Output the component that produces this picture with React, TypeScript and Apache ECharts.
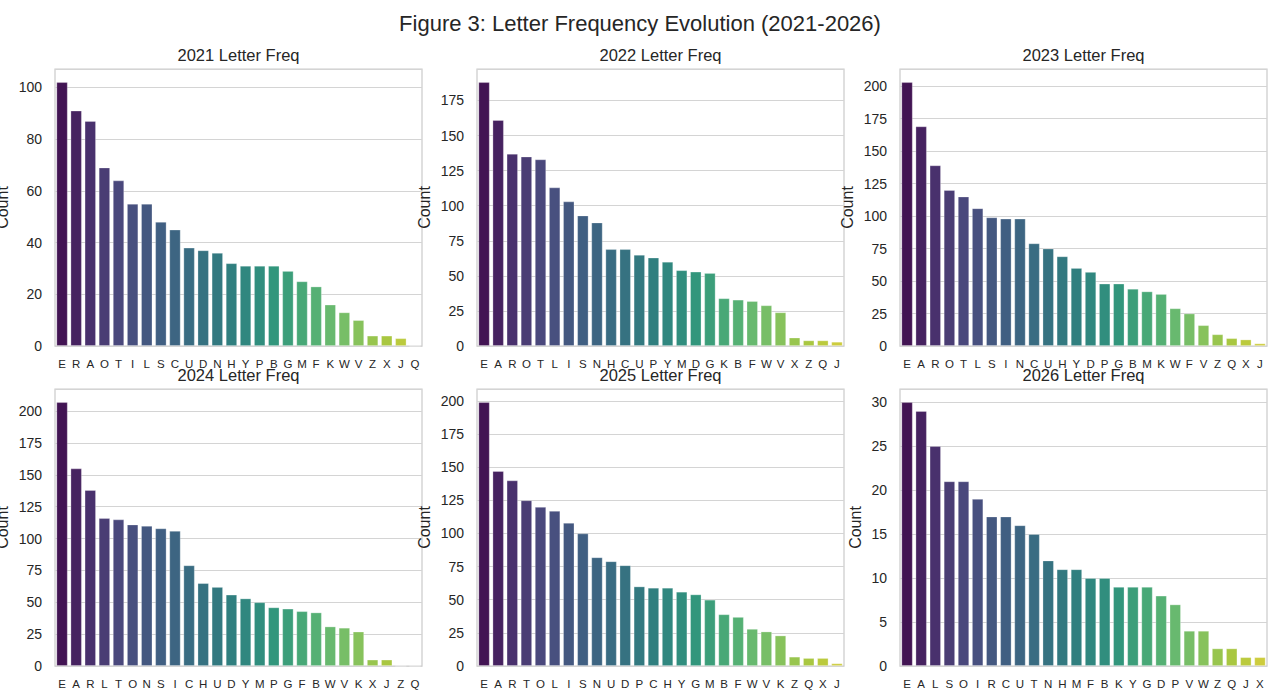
import React, { useEffect, useRef } from "react";
import * as echarts from "echarts";

const FIG_TITLE = "Figure 3: Letter Frequency Evolution (2021-2026)";
const years = ["2021", "2022", "2023", "2024", "2025", "2026"];

const letters2021 = ["E", "R", "A", "O", "T", "I", "L", "S", "C", "U", "D", "N", "H", "Y", "P", "B", "G", "M", "F", "K", "W", "V", "Z", "X", "J", "Q"];
const counts2021 = [102, 91, 87, 69, 64, 55, 55, 48, 45, 38, 37, 36, 32, 31, 31, 31, 29, 25, 23, 16, 13, 10, 4, 4, 3, 0];

const letters2022 = ["E", "A", "R", "O", "T", "L", "I", "S", "N", "H", "C", "U", "P", "Y", "M", "D", "G", "K", "B", "F", "W", "V", "X", "Z", "Q", "J"];
const counts2022 = [188, 161, 137, 135, 133, 113, 103, 93, 88, 69, 69, 65, 63, 60, 54, 53, 52, 34, 33, 32, 29, 24, 6, 4, 4, 3];

const letters2023 = ["E", "A", "R", "O", "T", "L", "S", "I", "N", "C", "U", "H", "Y", "D", "P", "G", "B", "M", "K", "W", "F", "V", "Z", "Q", "X", "J"];
const counts2023 = [203, 169, 139, 120, 115, 106, 99, 98, 98, 79, 75, 69, 60, 57, 48, 48, 44, 42, 40, 29, 25, 16, 9, 6, 5, 2];

const letters2024 = ["E", "A", "R", "L", "T", "O", "N", "S", "I", "C", "H", "U", "D", "Y", "M", "P", "G", "F", "B", "W", "V", "K", "X", "J", "Z", "Q"];
const counts2024 = [207, 155, 138, 116, 115, 111, 110, 108, 106, 79, 65, 62, 56, 53, 50, 46, 45, 43, 42, 31, 30, 27, 5, 5, 0, 0];

const letters2025 = ["E", "A", "R", "T", "O", "L", "I", "S", "N", "U", "D", "P", "C", "H", "Y", "G", "M", "B", "F", "W", "V", "K", "Z", "Q", "X", "J"];
const counts2025 = [199, 147, 140, 125, 120, 117, 108, 100, 82, 79, 76, 60, 59, 59, 56, 54, 50, 39, 37, 28, 26, 23, 7, 6, 6, 2];

const letters2026 = ["E", "A", "L", "S", "O", "I", "R", "C", "U", "T", "N", "H", "M", "F", "B", "K", "Y", "G", "D", "P", "V", "W", "Z", "Q", "J", "X"];
const counts2026 = [30, 29, 25, 21, 21, 19, 17, 17, 16, 15, 12, 11, 11, 10, 10, 9, 9, 9, 8, 7, 4, 4, 2, 2, 1, 1];

const yIntervals = [20, 25, 25, 25, 25, 5];

const allLetters = [letters2021, letters2022, letters2023, letters2024, letters2025, letters2026];
const allCounts = [counts2021, counts2022, counts2023, counts2024, counts2025, counts2026];

// ---- styling helpers (viridis palette, desaturated like seaborn) ----
const VIRIDIS: number[][] = [
  [0.0, 68, 1, 84],
  [0.05, 71, 13, 96],
  [0.1, 72, 36, 117],
  [0.2, 65, 68, 135],
  [0.3, 53, 95, 141],
  [0.4, 42, 120, 142],
  [0.5, 33, 145, 140],
  [0.6, 34, 168, 132],
  [0.7, 68, 191, 112],
  [0.8, 122, 209, 81],
  [0.9, 189, 223, 38],
  [1.0, 253, 231, 37],
];

function viridis(t: number): number[] {
  for (let i = 0; i < VIRIDIS.length - 1; i++) {
    const a = VIRIDIS[i];
    const b = VIRIDIS[i + 1];
    if (t >= a[0] && t <= b[0]) {
      const f = (t - a[0]) / (b[0] - a[0]);
      return [a[1] + (b[1] - a[1]) * f, a[2] + (b[2] - a[2]) * f, a[3] + (b[3] - a[3]) * f];
    }
  }
  const l = VIRIDIS[VIRIDIS.length - 1];
  return [l[1], l[2], l[3]];
}

function desaturate(rgb: number[], prop: number): string {
  const r = rgb[0] / 255, g = rgb[1] / 255, b = rgb[2] / 255;
  const mx = Math.max(r, g, b), mn = Math.min(r, g, b);
  const l = (mx + mn) / 2;
  let h = 0, s = 0;
  if (mx !== mn) {
    const d = mx - mn;
    s = l > 0.5 ? d / (2 - mx - mn) : d / (mx + mn);
    if (mx === r) h = ((g - b) / d + (g < b ? 6 : 0)) / 6;
    else if (mx === g) h = ((b - r) / d + 2) / 6;
    else h = ((r - g) / d + 4) / 6;
  }
  s *= prop;
  const hue2rgb = (p: number, q: number, t: number) => {
    if (t < 0) t += 1;
    if (t > 1) t -= 1;
    if (t < 1 / 6) return p + (q - p) * 6 * t;
    if (t < 1 / 2) return q;
    if (t < 2 / 3) return p + (q - p) * (2 / 3 - t) * 6;
    return p;
  };
  let rr, gg, bb;
  if (s === 0) {
    rr = gg = bb = l;
  } else {
    const q = l < 0.5 ? l * (1 + s) : l + s - l * s;
    const p = 2 * l - q;
    rr = hue2rgb(p, q, h + 1 / 3);
    gg = hue2rgb(p, q, h);
    bb = hue2rgb(p, q, h - 1 / 3);
  }
  const hx = (v: number) => Math.round(v * 255).toString(16).padStart(2, "0");
  return "#" + hx(rr) + hx(gg) + hx(bb);
}

function palette(n: number): string[] {
  const out: string[] = [];
  for (let i = 0; i < n; i++) out.push(desaturate(viridis((i + 1) / (n + 1)), 0.75));
  return out;
}

const FONT = "'Liberation Sans', Arial, Helvetica, sans-serif";
const TXT = "#262626";
const colLefts = [55, 477, 900];
const rowTops = [69, 389];
const GW = 367;
const GH = 277;

function buildOption() {
  const grids: any[] = [];
  const xAxes: any[] = [];
  const yAxes: any[] = [];
  const series: any[] = [];
  const titles: any[] = [
    {
      text: FIG_TITLE,
      left: 640,
      textAlign: "center",
      top: 10,
      padding: 0,
      textStyle: { fontFamily: FONT, fontSize: 22, fontWeight: "normal", color: TXT, lineHeight: 26 },
    },
  ];
  years.forEach((yr, i) => {
    const letters = allLetters[i];
    const counts = allCounts[i];
    const cols = palette(letters.length);
    const left = colLefts[i % 3];
    const top = rowTops[Math.floor(i / 3)];
    const maxV = Math.max(...counts) * 1.05;
    grids.push({
      left,
      top,
      width: GW,
      height: GH,
      show: true,
      containLabel: false,
      outerBoundsMode: "none",
      borderColor: "#cccccc",
      borderWidth: 1.25,
      backgroundColor: "transparent",
    });
    titles.push({
      text: `${yr} Letter Freq`,
      left: left + GW / 2,
      textAlign: "center",
      top: top - 24,
      padding: 0,
      textStyle: { fontFamily: FONT, fontSize: 16.5, fontWeight: "normal", color: TXT, lineHeight: 20 },
    });
    xAxes.push({
      type: "category",
      gridIndex: i,
      data: letters,
      axisLine: { show: false },
      axisTick: { show: false },
      splitLine: { show: false },
      axisLabel: {
        interval: 0,
        hideOverlap: false,
        fontSize: 11.5,
        lineHeight: 14,
        color: TXT,
        fontFamily: FONT,
        margin: 11,
      },
    });
    yAxes.push({
      type: "value",
      gridIndex: i,
      min: 0,
      max: maxV,
      interval: yIntervals[i],
      name: "Count",
      nameLocation: "middle",
      nameGap: i === 5 ? 37 : 45,
      nameTextStyle: { fontSize: 16, color: TXT, fontFamily: FONT },
      axisLine: { show: false },
      axisTick: { show: false },
      axisLabel: {
        fontSize: 14,
        color: TXT,
        fontFamily: FONT,
        margin: 13,
        showMaxLabel: false,
      },
      splitLine: { show: true, lineStyle: { color: "#d4d4d4", width: 1 } },
    });
    series.push({
      type: "bar",
      xAxisIndex: i,
      yAxisIndex: i,
      barCategoryGap: "20%",
      data: counts.map((v, j) => ({
        value: v,
        itemStyle: { color: cols[j], borderColor: "rgba(255,255,255,0.35)", borderWidth: 0.8 },
      })),
    });
  });
  return {
    animation: false,
    backgroundColor: "#ffffff",
    textStyle: { fontFamily: FONT },
    title: titles,
    grid: grids,
    xAxis: xAxes,
    yAxis: yAxes,
    series,
  };
}

export default function App() {
  const ref = useRef<HTMLDivElement>(null);
  useEffect(() => {
    document.body.style.margin = "0";
    if (!ref.current) return;
    const chart = echarts.init(ref.current, undefined, { renderer: "svg" });
    chart.setOption(buildOption() as any);
    return () => chart.dispose();
  }, []);
  return (
    <div
      ref={ref}
      style={{ position: "absolute", left: 0, top: 0, width: 1280, height: 695, background: "#fff" }}
    />
  );
}
